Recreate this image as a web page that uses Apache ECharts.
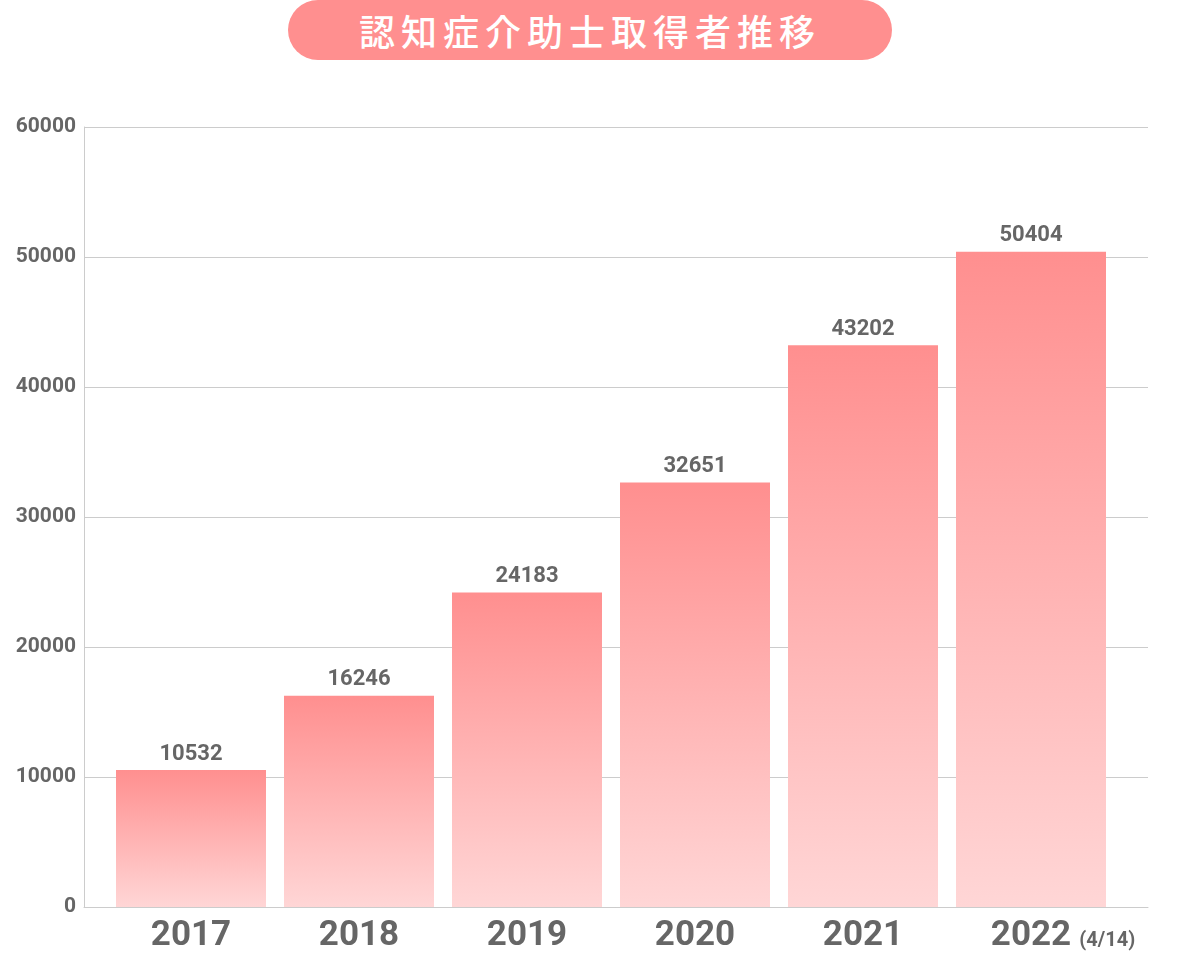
<!DOCTYPE html>
<html><head><meta charset="utf-8">
<script src="https://cdn.jsdelivr.net/npm/echarts@6/dist/echarts.min.js"></script>
<style>
html,body{margin:0;padding:0;background:#fff;}
#c{width:1180px;height:960px;}
#t{position:absolute;left:288px;top:0;width:604px;height:60px;border-radius:30px;background:#ff8f8f;color:#fff;
font-family:"Noto Sans CJK JP";font-size:36px;font-weight:500;line-height:60px;text-align:center;letter-spacing:6px;}
</style></head><body>
<div id="t">認知症介助士取得者推移</div>
<div id="c"></div>
<script>
const categories=['2017','2018','2019','2020','2021','2022'];
const values=[10532,16246,24183,32651,43202,50404];
const yTicks=[0,10000,20000,30000,40000,50000,60000];
const chart=echarts.init(document.getElementById('c'));
const yMin=yTicks[0], yMax=yTicks[yTicks.length-1];
chart.setOption({
  animation:false,
  grid:[{left:84,right:32,top:127,bottom:53},{left:107,right:65,top:127,bottom:53}],
  xAxis:[
    {gridIndex:0,type:'category',data:categories,show:true,axisLine:{lineStyle:{color:'#ccc'}},axisTick:{show:false},axisLabel:{show:false}},
    {gridIndex:1,type:'category',data:categories,axisLine:{show:false},axisTick:{show:false},
    axisLabel:{interval:0,margin:12,color:'#666',fontFamily:'Roboto',fontWeight:'bold',fontSize:35,
      formatter:v=>v==='2022'?'{a|}'+v+'{s|(4/14)}':v,
      rich:{s:{fontSize:20,fontWeight:'bold',color:'#666',fontFamily:'Roboto',width:64,align:'right',padding:[8,0,0,0]},a:{width:64}}}}],
  yAxis:[
    {gridIndex:0,type:'value',min:yMin,max:yMax,interval:10000,
    axisLine:{show:true,lineStyle:{color:'#ccc'}},
    splitLine:{lineStyle:{color:'#ccc'}},
    axisLabel:{color:'#666',fontFamily:'Roboto',fontWeight:'bold',fontSize:21,margin:8,formatter:v=>String(v)}},
    {gridIndex:1,type:'value',min:yMin,max:yMax,interval:10000,show:false,splitLine:{show:false}}],
  series:[{type:'bar',xAxisIndex:1,yAxisIndex:1,data:values,barWidth:150,
    itemStyle:{color:new echarts.graphic.LinearGradient(0,0,0,1,[{offset:0,color:'#ff8f8f'},{offset:1,color:'#ffd6d6'}])},
    label:{show:true,position:'top',distance:5,color:'#666',fontFamily:'Roboto',fontWeight:'bold',fontSize:22}}]
});
</script></body></html>
